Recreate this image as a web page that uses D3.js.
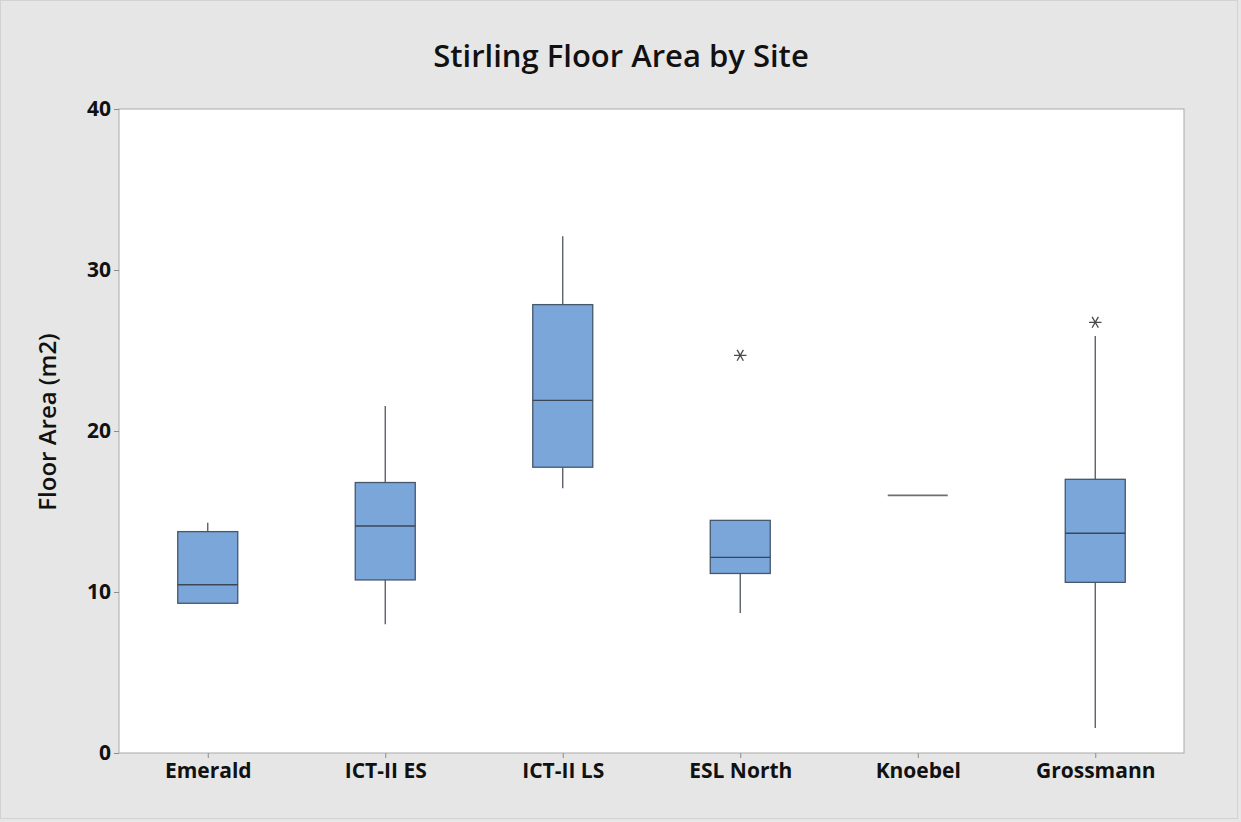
<!DOCTYPE html>
<html>
<head>
<meta charset="utf-8">
<script src="https://cdn.jsdelivr.net/npm/d3@7"></script>
<style>
  html, body { margin: 0; padding: 0; background: #e6e6e6; }
  svg { display: block; }
  text { font-family: "Open Sans", "Noto Sans", sans-serif; fill: #111; }
</style>
</head>
<body>
<svg id="chart" width="1241" height="822"></svg>
<script>
// Box plot summaries for floor area (m2) at each site
const sites       = ["Emerald", "ICT-II ES", "ICT-II LS", "ESL North", "Knoebel", "Grossmann"];
const whiskerLow  = [9.3, 8.0, 16.45, 8.7, 16.0, 1.55];
const q1          = [9.3, 10.75, 17.75, 11.15, 16.0, 10.6];
const median      = [10.45, 14.1, 21.9, 12.15, 16.0, 13.65];
const q3          = [13.75, 16.8, 27.85, 14.45, 16.0, 17.0];
const whiskerHigh = [14.3, 21.55, 32.1, 14.45, 16.0, 25.9];
const outliers    = [[], [], [], [24.7], [], [26.75]];
const yTicks      = [0, 10, 20, 30, 40];

const svg = d3.select("#chart");
const W = 1241, H = 822;
const plot = { left: 119, right: 1184, top: 109, bottom: 753 };

// outer frame
svg.append("rect").attr("x", 0.5).attr("y", 0.5).attr("width", W - 4).attr("height", H - 4)
  .attr("fill", "#e6e6e6").attr("stroke", "#d2d2d2");

// plot area
svg.append("rect")
  .attr("x", plot.left).attr("y", plot.top)
  .attr("width", plot.right - plot.left).attr("height", plot.bottom - plot.top)
  .attr("fill", "#ffffff").attr("stroke", "#a9a9a9").attr("stroke-width", 1);

const y = d3.scaleLinear().domain([0, 40]).range([plot.bottom, plot.top]);
const x = d3.scalePoint().domain(sites).range([plot.left, plot.right]).padding(0.5);
const boxW = 60;

// y axis
const yAxis = svg.append("g").attr("transform", `translate(${plot.left},0)`)
  .call(d3.axisLeft(y).tickValues(yTicks).tickSize(5).tickPadding(3));
yAxis.select(".domain").remove();
yAxis.selectAll(".tick line").attr("stroke", "#8c8c8c");
yAxis.selectAll(".tick text")
  .style("font-size", "21px").style("font-weight", "700").attr("fill", "#111")
  .attr("font-family", null);

// x axis
const xAxis = svg.append("g").attr("transform", `translate(0,${plot.bottom})`)
  .call(d3.axisBottom(x).tickSize(5).tickPadding(5));
xAxis.select(".domain").remove();
xAxis.selectAll(".tick line").attr("stroke", "#8c8c8c");
xAxis.selectAll(".tick text")
  .style("font-size", "21px").style("font-weight", "700").attr("fill", "#111")
  .attr("font-family", null);

// boxes
const data = sites.map((s, i) => ({
  site: s, lo: whiskerLow[i], q1: q1[i], med: median[i], q3: q3[i], hi: whiskerHigh[i], out: outliers[i]
}));

const g = svg.append("g");
const groups = g.selectAll("g.box").data(data).join("g").attr("class", "box");

const lineColor = "#4f5560";

groups.filter(d => d.hi > d.q3).append("line")
  .attr("x1", d => x(d.site)).attr("x2", d => x(d.site))
  .attr("y1", d => y(d.hi)).attr("y2", d => y(d.q3))
  .attr("stroke", lineColor).attr("stroke-width", 1.3);

groups.filter(d => d.lo < d.q1).append("line")
  .attr("x1", d => x(d.site)).attr("x2", d => x(d.site))
  .attr("y1", d => y(d.q1)).attr("y2", d => y(d.lo))
  .attr("stroke", lineColor).attr("stroke-width", 1.3);

groups.filter(d => d.q3 > d.q1).append("rect")
  .attr("x", d => x(d.site) - boxW / 2).attr("width", boxW)
  .attr("y", d => y(d.q3)).attr("height", d => y(d.q1) - y(d.q3))
  .attr("fill", "#7ba6da").attr("stroke", "#46566b").attr("stroke-width", 1.3);

groups.append("line")
  .attr("x1", d => x(d.site) - boxW / 2).attr("x2", d => x(d.site) + boxW / 2)
  .attr("y1", d => y(d.med)).attr("y2", d => y(d.med))
  .attr("stroke", d => d.q3 > d.q1 ? "#3b4656" : "#6f6f6f")
  .attr("stroke-width", d => d.q3 > d.q1 ? 1.3 : 1.6);

// outliers drawn as asterisks
const star = d3.symbol().type(d3.symbolAsterisk).size(110);
groups.each(function (d) {
  d3.select(this).selectAll("path.out").data(d.out).join("path")
    .attr("class", "out")
    .attr("d", star)
    .attr("transform", v => `translate(${x(d.site)},${y(v)}) rotate(90)`)
    .attr("fill", "none").attr("stroke", "#4a4a4a").attr("stroke-width", 1.3);
});

// title
svg.append("text")
  .attr("x", 621).attr("y", 67)
  .attr("text-anchor", "middle")
  .style("font-size", "31px").style("font-weight", "600")
  .text("Stirling Floor Area by Site");

// y axis label
svg.append("text")
  .attr("transform", "translate(56,422) rotate(-90)")
  .attr("text-anchor", "middle")
  .style("font-size", "24px").style("font-weight", "600")
  .text("Floor Area (m2)");
</script>
</body>
</html>
